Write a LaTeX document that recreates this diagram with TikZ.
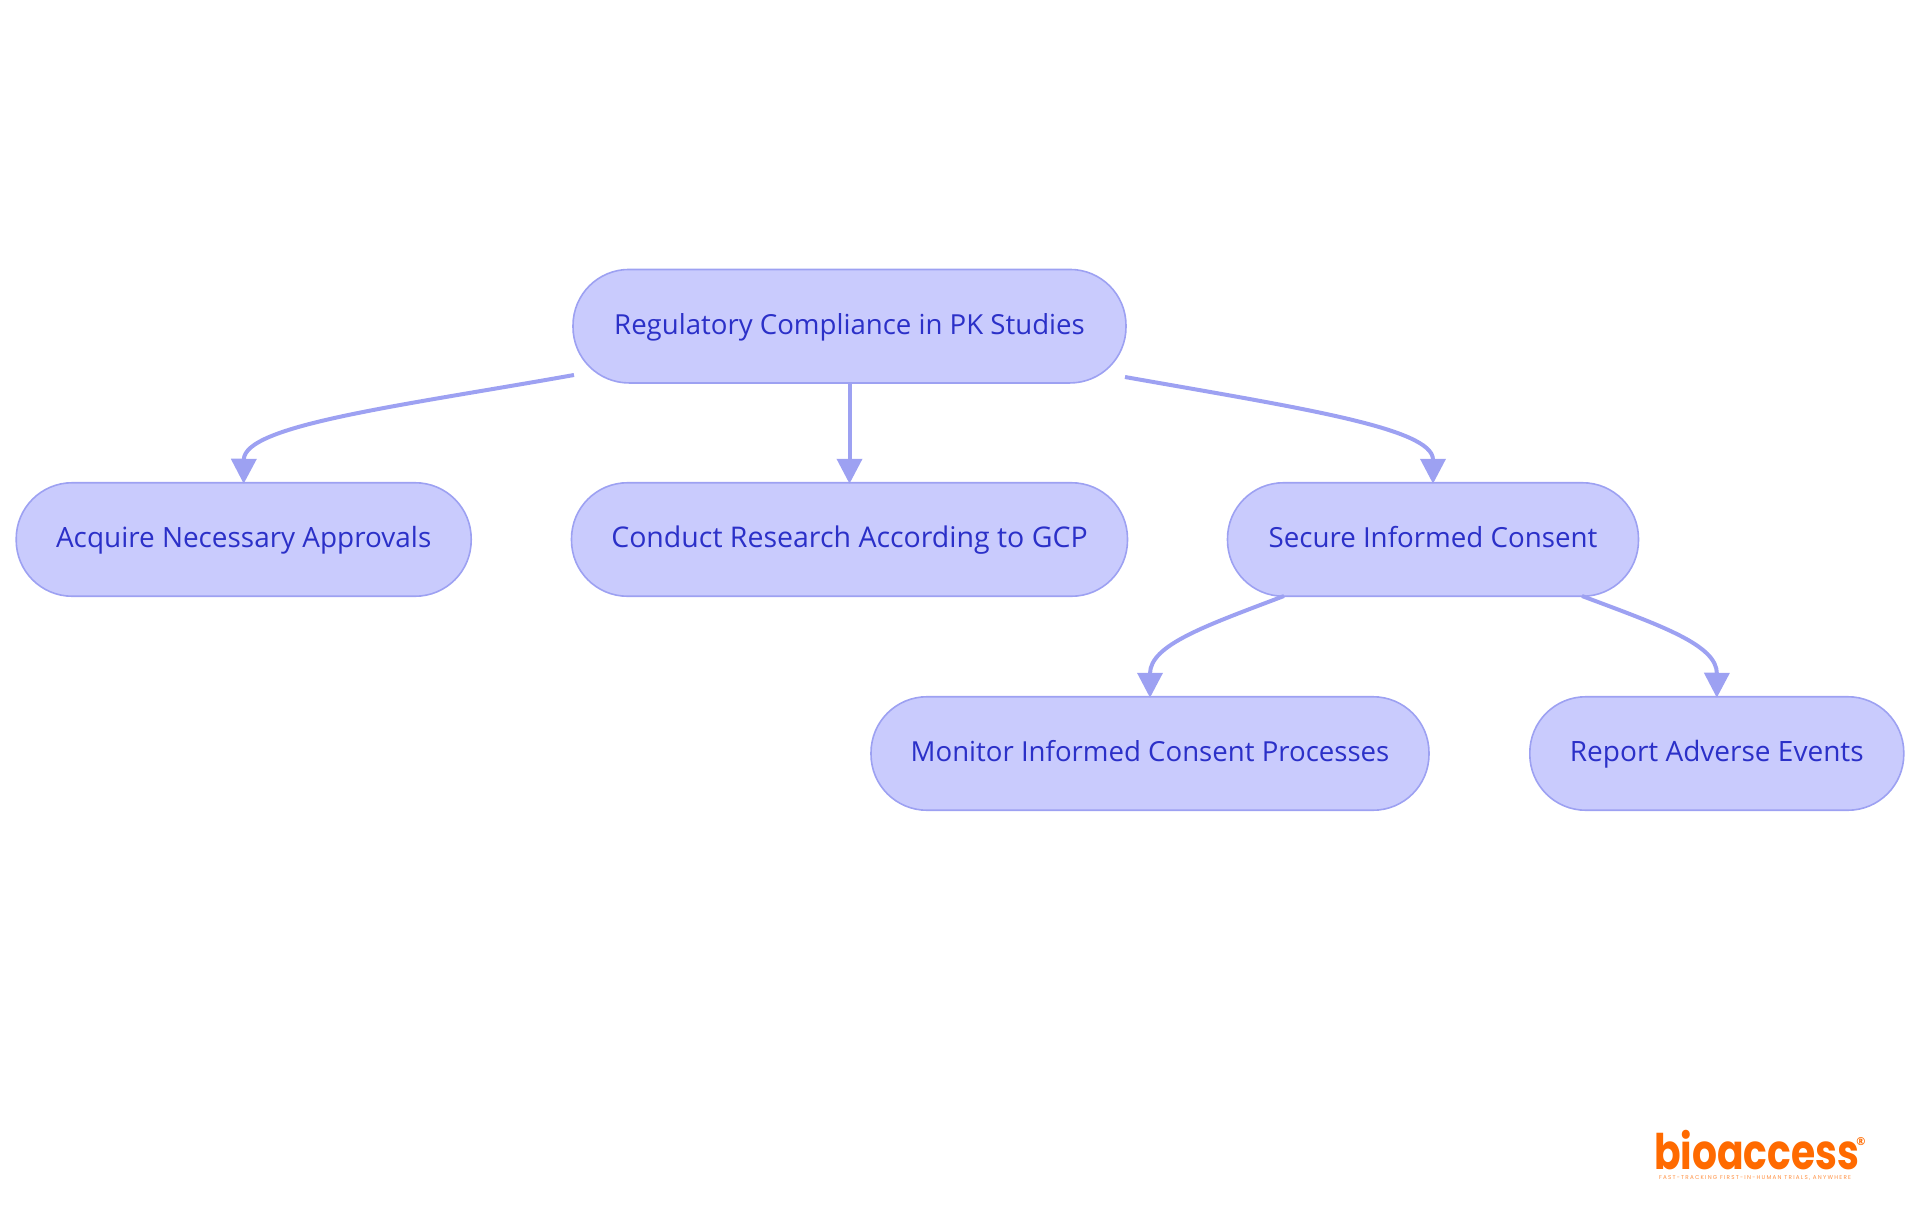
\documentclass[tikz,border=0pt]{standalone}
\usepackage{fontspec}
\setmainfont{Open Sans}
\newfontfamily\logofont{Poppins}
\newfontfamily\tagfont[LetterSpace=22]{Poppins}
\usetikzlibrary{arrows.meta,calc}
\definecolor{boxfill}{HTML}{C9CBFD}
\definecolor{boxline}{HTML}{9DA1F2}
\definecolor{boxtext}{HTML}{2B30C8}
\definecolor{logoorange}{HTML}{FF6A00}
\tikzset{
  pill/.style={draw=boxline,fill=boxfill,line width=1.6pt,rounded corners=56pt,minimum height=113.5pt,inner sep=0pt,text=boxtext,text height=22pt,text depth=6pt,anchor=center},
  link/.style={draw=boxline,line width=4pt,shorten >=-1.8pt,-{Triangle[length=25pt,width=25pt]}}
}
\newcommand{\fs}[1]{\fontsize{#1}{32}\selectfont}
\begin{document}
\begin{tikzpicture}[x=1pt,y=-1pt]
\useasboundingbox (0,0) rectangle (1920,1215);
\node[pill,minimum width=553pt,font=\fs{27.6}] (root) at (849.5,326.2) {Regulatory Compliance in PK Studies};
\node[pill,minimum width=455pt,font=\fs{27.9}] (acq) at (243.7,539.5) {Acquire Necessary Approvals};
\node[pill,minimum width=556pt,font=\fs{28.5}] (gcp) at (849.5,539.5) {Conduct Research According to GCP};
\node[pill,minimum width=411pt,font=\fs{27.7}] (sec) at (1433,539.5) {Secure Informed Consent};
\node[pill,minimum width=558pt,font=\fs{27.6}] (mon) at (1150,753.5) {Monitor Informed Consent Processes};
\node[pill,minimum width=374pt,font=\fs{28}] (rep) at (1716.8,753.5) {Report Adverse Events};
\coordinate (r1) at (574,375);
\coordinate (r2) at (1125,377);
\coordinate (s1) at (1284,596);
\coordinate (s2) at (1582,596);
\draw[link] (r1) .. controls (400,406) and (244,425) .. (acq.north);
\draw[link] (root.south) -- (gcp.north);
\draw[link] (r2) .. controls (1300,408) and (1433,428) .. (sec.north);
\draw[link] (s1) .. controls (1205,626) and (1150,645) .. (mon.north);
\draw[link] (s2) .. controls (1662,626) and (1717,645) .. (rep.north);
\node[text=logoorange,font=\logofont\bfseries\fontsize{49}{50}\selectfont,anchor=base west,inner sep=0pt] (logo) at (1654,1169) {\scalebox{0.8}[1]{bioaccess}};
\node[text=logoorange,font=\bfseries\fontsize{11}{12}\selectfont,inner sep=0pt] (reg) at (1861,1142) {®};
\node[text=logoorange!75,font=\tagfont\fontsize{5.6}{7}\selectfont,inner sep=0pt] (tag) at (1755,1178) {FAST-TRACKING FIRST-IN-HUMAN TRIALS, ANYWHERE};
\end{tikzpicture}
\end{document}
